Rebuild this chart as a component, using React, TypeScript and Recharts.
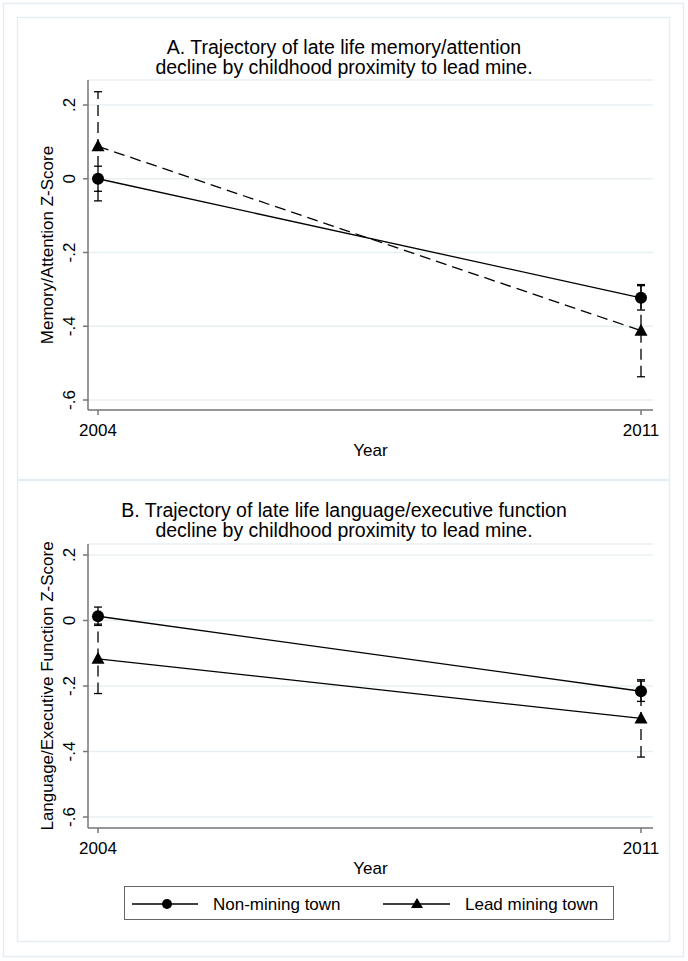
import { LineChart, Line, XAxis, YAxis, CartesianGrid, ErrorBar } from 'recharts'

// survey years
const years = [2004, 2011]

// panel A: memory/attention z-scores and 95% CI half widths
const memNonMining = [0, -0.323]
const memNonMiningCI = [0.034, 0.033]
const memLead = [0.088, -0.412]
const memLeadCI = [0.148, 0.125]

// panel B: language/executive function
const langNonMining = [0.013, -0.216]
const langNonMiningCI = [0.028, 0.031]
const langLead = [-0.117, -0.299]
const langLeadCI = [0.106, 0.118]

const yTicks = [-0.6, -0.4, -0.2, 0, 0.2]
const yTickLabels = ['-.6', '-.4', '-.2', '0', '.2']

const FONT = '"Liberation Sans", Arial, sans-serif'
const AXIS = '#777777'
const GRID = '#e8eff2'
const FRAME = '#e6edf1'

const memData = years.map((year, i) => ({
  year,
  nm: memNonMining[i],
  nmErr: memNonMiningCI[i],
  lm: memLead[i],
  lmErr: memLeadCI[i],
}))

const langData = years.map((year, i) => ({
  year,
  nm: langNonMining[i],
  nmErr: langNonMiningCI[i],
  lm: langLead[i],
  lmErr: langLeadCI[i],
}))

const CircleDot = (props: any) => {
  const { cx, cy } = props
  if (cx == null || cy == null) return null
  return <circle cx={cx} cy={cy} r={6} fill="#000" stroke="none" />
}

const TriangleDot = (props: any) => {
  const { cx, cy } = props
  if (cx == null || cy == null) return null
  return (
    <polygon
      points={`${cx},${cy - 7} ${cx - 6.5},${cy + 5} ${cx + 6.5},${cy + 5}`}
      fill="#000"
    />
  )
}

const YTick = (props: any) => {
  const { x, y, payload } = props
  const idx = yTicks.findIndex((t) => Math.abs(t - payload.value) < 1e-6)
  return (
    <text
      x={x}
      y={y}
      transform={`rotate(-90 ${x} ${y})`}
      textAnchor="middle"
      dominantBaseline="central"
      fontSize={17}
      fontFamily={FONT}
      fill="#000"
    >
      {idx >= 0 ? yTickLabels[idx] : payload.value}
    </text>
  )
}

function Panel({
  data,
  top,
  height,
  marginTop,
  marginBottom,
  padTop,
  padBottom,
  yLabel,
  leadDashed,
}: any) {
  const YLabel = (p: any) => {
    const vb = p.viewBox
    const cy = vb.y + vb.height / 2
    return (
      <text
        x={47}
        y={cy}
        transform={`rotate(-90 47 ${cy})`}
        textAnchor="middle"
        dominantBaseline="central"
        fontSize={17}
        fontFamily={FONT}
        fill="#000"
      >
        {yLabel}
      </text>
    )
  }
  const XLabel = (p: any) => {
    const vb = p.viewBox
    return (
      <text
        x={vb.x + vb.width / 2}
        y={vb.y + 46}
        textAnchor="middle"
        fontSize={17}
        fontFamily={FONT}
        fill="#000"
      >
        Year
      </text>
    )
  }
  return (
    <div style={{ position: 'absolute', left: 0, top }}>
      <LineChart
        width={688}
        height={height}
        data={data}
        margin={{ top: marginTop, right: 35, bottom: marginBottom, left: 0 }}
      >
        <CartesianGrid vertical={false} stroke={GRID} strokeWidth={1.5} />
        <XAxis
          dataKey="year"
          type="number"
          domain={[2004, 2011]}
          ticks={years}
          padding={{ left: 10, right: 12 }}
          height={40}
          stroke={AXIS}
          strokeWidth={1.5}
          tickSize={5}
          tickMargin={9}
          tick={{ fill: '#000', fontSize: 17, fontFamily: FONT }}
          label={{ content: XLabel }}
        />
        <YAxis
          type="number"
          domain={[-0.6, 0.2]}
          allowDataOverflow
          ticks={yTicks}
          padding={{ top: padTop, bottom: padBottom }}
          width={88}
          stroke={AXIS}
          strokeWidth={1.5}
          tickSize={5}
          tickMargin={14}
          tick={<YTick />}
          label={{ content: YLabel }}
        />
        <Line
          dataKey="nm"
          stroke="#000"
          strokeWidth={1.3}
          dot={<CircleDot />}
          isAnimationActive={false}
        >
          <ErrorBar dataKey="nmErr" width={4} stroke="#000" strokeWidth={1.3} direction="y" />
        </Line>
        <Line
          dataKey="lm"
          stroke="#000"
          strokeWidth={1.3}
          strokeDasharray={leadDashed ? '11 6' : undefined}
          dot={<TriangleDot />}
          isAnimationActive={false}
        >
          <ErrorBar
            dataKey="lmErr"
            width={4}
            stroke="#000"
            strokeWidth={1.3}
            strokeDasharray="11 6"
            direction="y"
          />
        </Line>
      </LineChart>
    </div>
  )
}

const titleStyle: any = {
  position: 'absolute',
  left: 0,
  width: 688,
  textAlign: 'center',
  fontFamily: FONT,
  fontSize: 19.5,
  lineHeight: '20px',
  color: '#000',
}

export default function App() {
  return (
    <div
      style={{
        position: 'absolute',
        left: 0,
        top: 0,
        width: 688,
        height: 961,
        background: '#fff',
        fontFamily: FONT,
      }}
    >
      <svg width={688} height={961} style={{ position: 'absolute', left: 0, top: 0 }}>
        <rect x={3.5} y={3.5} width={680} height={953} fill="none" stroke={FRAME} strokeWidth={1.5} />
        <rect x={17.5} y={17.5} width={652} height={462} fill="none" stroke={FRAME} strokeWidth={1.5} />
        <rect x={17.5} y={480.5} width={652} height={461} fill="none" stroke={FRAME} strokeWidth={1.5} />
      </svg>

      <div style={{ ...titleStyle, top: 37 }}>
        A. Trajectory of late life memory/attention
        <br />
        decline by childhood proximity to lead mine.
      </div>
      <Panel
        data={memData}
        top={0}
        height={480}
        marginTop={80}
        marginBottom={30}
        padTop={25}
        padBottom={10}
        yLabel="Memory/Attention Z-Score"
        leadDashed
      />

      <div style={{ ...titleStyle, top: 500 }}>
        B. Trajectory of late life language/executive function
        <br />
        decline by childhood proximity to lead mine.
      </div>
      <Panel
        data={langData}
        top={480}
        height={480}
        marginTop={64}
        marginBottom={92}
        padTop={11}
        padBottom={11}
        yLabel="Language/Executive Function Z-Score"
        leadDashed={false}
      />

      <div
        style={{
          position: 'absolute',
          left: 124,
          top: 886,
          width: 490,
          height: 34,
          boxSizing: 'border-box',
          border: '1.5px solid #666',
        }}
      >
        <svg width={490} height={34} style={{ position: 'absolute', left: -1.5, top: -1.5 }}>
          <line x1={8} x2={74} y1={18} y2={18} stroke="#000" strokeWidth={1.3} />
          <circle cx={43} cy={18} r={5} fill="#000" />
          <text x={89} y={18} dominantBaseline="central" fontSize={17} fontFamily={FONT} fill="#000">
            Non-mining town
          </text>
          <line x1={259} x2={326} y1={18} y2={18} stroke="#000" strokeWidth={1.3} />
          <polygon points="293,12 287,22 299,22" fill="#000" />
          <text x={341} y={18} dominantBaseline="central" fontSize={17} fontFamily={FONT} fill="#000">
            Lead mining town
          </text>
        </svg>
      </div>
    </div>
  )
}
